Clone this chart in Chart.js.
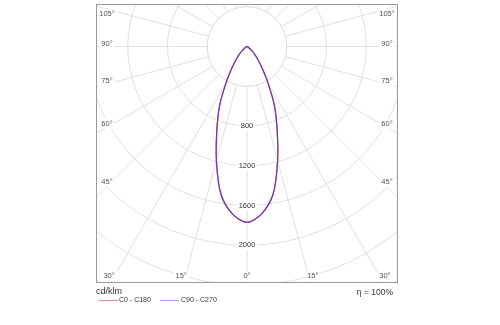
<!DOCTYPE html>
<html>
<head>
<meta charset="utf-8">
<script src="https://cdn.jsdelivr.net/npm/chart.js@4.4.1/dist/chart.umd.min.js"></script>
<style>
  body { margin: 0; background: #fff; font-family: "Liberation Sans", Arial, sans-serif; color: #333; }
  #wrap { position: relative; width: 500px; height: 325px; overflow: hidden; }
  #js--diagram { position: absolute; left: 0; top: 0; }
  .txt { position: absolute; white-space: nowrap; line-height: 1; }
  .swatch { position: absolute; height: 1px; width: 19px; }
</style>
</head>
<body>
<div id="wrap">
  <canvas id="js--diagram" width="500" height="325"></canvas>
  <div class="txt" style="left:96px; top:287px; font-size:9px;">cd/klm</div>
  <div class="swatch" id="js--swatchC0" style="left:99px; top:300px;"></div>
  <div class="txt" style="left:119px; top:296px; font-size:7px;">C0 - C180</div>
  <div class="swatch" id="js--swatchC90" style="left:160px; top:300px;"></div>
  <div class="txt" style="left:181px; top:296px; font-size:7px;">C90 - C270</div>
  <div class="txt" style="right:107px; top:288px; font-size:8.5px;">&eta; = 100%</div>
</div>
<script>
// gamma angles (deg) and intensity (cd/klm) for both C planes
const gamma   = [0, 5, 10, 15, 20, 25, 30, 35, 40, 45, 50, 55, 60, 65, 70, 75, 80, 85, 90,
                 95, 100, 105, 110, 115, 120, 125, 130, 135, 140, 145, 150, 155, 160, 165, 170, 175, 180];
const c0c180  = [1770, 1690, 1510, 1190, 885, 650, 420, 265, 170, 105, 60, 30, 12, 4, 0, 0, 0, 0, 0,
                 0, 0, 0, 0, 0, 0, 0, 0, 0, 0, 0, 0, 0, 0, 0, 0, 0, 0];
const c90c270 = [1770, 1690, 1510, 1190, 885, 650, 420, 265, 170, 105, 60, 30, 12, 4, 0, 0, 0, 0, 0,
                 0, 0, 0, 0, 0, 0, 0, 0, 0, 0, 0, 0, 0, 0, 0, 0, 0, 0];

const ringLabels  = [800, 1200, 1600, 2000];
const angleLabels = [0, 15, 30, 45, 60, 75, 90, 105];

const redLine  = '#d03030';
const blueLine = 'rgba(70, 60, 230, 0.75)';
const gridColor = '#e0e0e0';

document.getElementById('js--swatchC0').style.background = 'rgba(208, 48, 48, 0.55)';
document.getElementById('js--swatchC90').style.background = 'rgba(70, 60, 230, 0.5)';

// full turn in 5 deg steps: left half is the C0/C90 side, right half the mirrored C180/C270 side
const step = gamma[1] - gamma[0];
const count = 360 / step;
const labels = [];
const c0Full = [];
const c90Full = [];
for (let i = 0; i < count; i++) {
  const k = i * step <= 180 ? i : count - i;
  labels.push(i * step + '°');
  c0Full.push(c0c180[k]);
  c90Full.push(c90c270[k]);
}

// plot frame and the inner box the angle labels sit on
const frame = { left: 96.5, top: 4.5, right: 397.5, bottom: 282.5 };
const labelBox = { left: 107, top: 14, right: 387, bottom: 276 };

function drawTag(ctx, text, x, y, color) {
  const w = ctx.measureText(text).width;
  ctx.fillStyle = '#fff';
  ctx.fillRect(x - w / 2 - 2, y - 5, w + 4, 10);
  ctx.fillStyle = color;
  ctx.fillText(text, x, y);
}

const polarFrame = {
  id: 'polarFrame',
  beforeDraw(chart) {
    const ctx = chart.ctx;
    ctx.save();
    ctx.beginPath();
    ctx.rect(frame.left, frame.top, frame.right - frame.left, frame.bottom - frame.top);
    ctx.clip();
  },
  beforeDatasetsDraw(chart) {
    const ctx = chart.ctx;
    const r = chart.scales.r;

    // empty hub inside the first ring
    const hub = r.getDistanceFromCenterForValue(400);
    ctx.save();
    ctx.beginPath();
    ctx.arc(r.xCenter, r.yCenter, hub, 0, 2 * Math.PI);
    ctx.fillStyle = '#fff';
    ctx.fill();
    ctx.strokeStyle = gridColor;
    ctx.lineWidth = 1;
    ctx.stroke();

    ctx.textAlign = 'center';
    ctx.textBaseline = 'middle';
    ctx.font = '7.5px "Liberation Sans", Arial, sans-serif';

    // ring values along the 0 deg line
    ringLabels.forEach(function(v) {
      const p = r.getPointPositionForValue(0, v);
      drawTag(ctx, String(v), p.x, p.y, '#333');
    });

    // angle values where the spokes run into the frame
    angleLabels.forEach(function(a) {
      const idx = a / step;
      const nudge = a === 0 ? 0 : Math.PI / 180;
      const sides = a === 0 ? [[idx, 0]] : [[idx, nudge], [count - idx, -nudge]];
      sides.forEach(function(s) {
        const p = r.getPointPosition(s[0], 100, s[1]);
        const dx = (p.x - r.xCenter) / 100;
        const dy = (p.y - r.yCenter) / 100;
        let t = Infinity;
        if (Math.abs(dx) > 1e-6) {
          t = ((dx < 0 ? labelBox.left : labelBox.right) - r.xCenter) / dx;
        }
        if (dy > 0) {
          t = Math.min(t, (labelBox.bottom - r.yCenter) / dy);
        }
        const x = r.xCenter + dx * t;
        const y = Math.max(labelBox.top, r.yCenter + dy * t);
        drawTag(ctx, a + '°', x, y, '#555');
      });
    });
    ctx.restore();
  },
  afterDraw(chart) {
    const ctx = chart.ctx;
    ctx.restore();
    ctx.save();
    ctx.strokeStyle = '#999';
    ctx.lineWidth = 1;
    ctx.strokeRect(frame.left, frame.top, frame.right - frame.left, frame.bottom - frame.top);
    ctx.restore();
  }
};

const config = {
  type: 'radar',
  data: {
    labels: labels,
    datasets: [
      {
        label: 'C0 - C180',
        data: c0Full,
        borderColor: redLine,
        borderWidth: 1.2,
        pointRadius: 0,
        fill: false,
        tension: 0.3,
        order: 2
      },
      {
        label: 'C90 - C270',
        data: c90Full,
        borderColor: blueLine,
        borderWidth: 1.2,
        pointRadius: 0,
        fill: false,
        tension: 0.3,
        order: 1
      }
    ]
  },
  options: {
    responsive: false,
    animation: false,
    devicePixelRatio: 1,
    layout: { padding: { left: 97, top: 5, right: 103, bottom: 43 } },
    plugins: {
      legend: { display: false },
      tooltip: { enabled: false }
    },
    scales: {
      r: {
        min: 0,
        max: 3200,
        startAngle: 180,
        ticks: { stepSize: 400, display: false },
        grid: { circular: true, color: gridColor, lineWidth: 1 },
        angleLines: {
          color: gridColor,
          lineWidth: function(c) { return c.index % 3 === 0 ? 1 : 0; }
        },
        pointLabels: { display: false },
        afterFit: function(s) {
          // pole near the top of the frame, 400 cd per 39.75 px
          s.xCenter = 247;
          s.yCenter = 46.5;
          s.drawingArea = 318;
        }
      }
    }
  },
  plugins: [polarFrame]
};

const diagram = new Chart(document.getElementById('js--diagram'), config);
</script>
</body>
</html>
